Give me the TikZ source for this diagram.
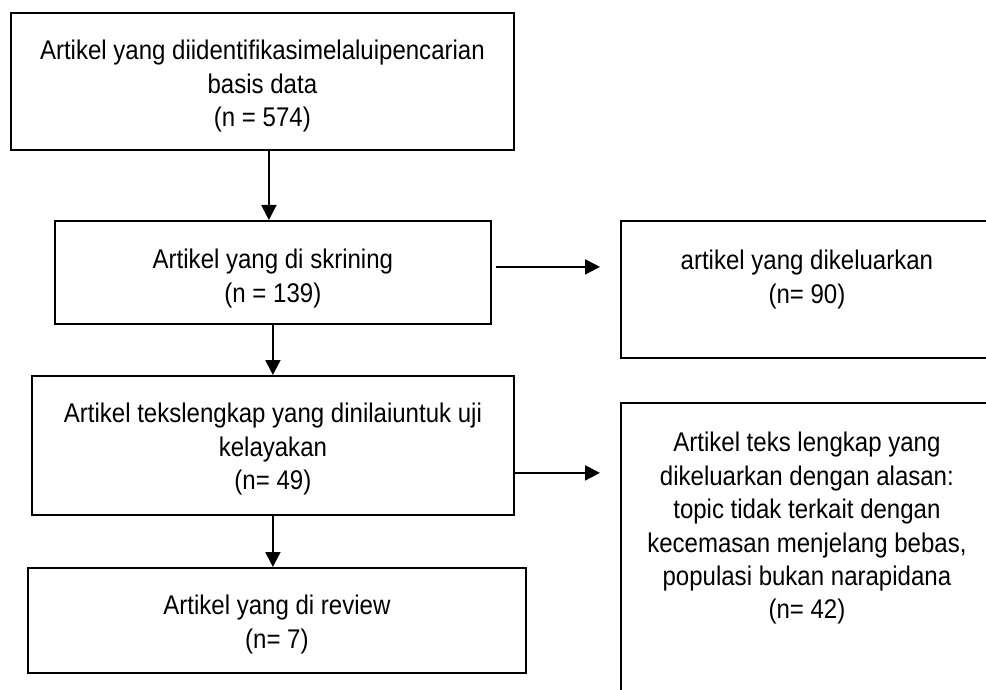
\documentclass[tikz,border=0pt]{standalone}
\usepackage{fontspec}
\setmainfont[FakeStretch=0.89]{Liberation Sans}
\usetikzlibrary{arrows.meta}

\begin{document}
\begin{tikzpicture}[x=0.5pt,y=-0.5pt,
  box/.style={draw=black,line width=0.9pt,anchor=north west,inner sep=0pt},
  txt/.style={anchor=north,align=center,inner sep=0pt,font=\fontsize{13.5}{16.7}\selectfont},
  arr/.style={-{Triangle[length=7.5pt,width=7.5pt]},line width=1pt}]
\clip (0,0) rectangle (986,690);
\node[box,minimum width=251.5pt,minimum height=68.5pt] (ident) at (10,12) {};
\node[txt] (identtxt) at ([yshift=-14pt]ident.north) {Artikel yang diidentifikasimelaluipencarian\\basis data\\(n = 574)};
\node[box,minimum width=218pt,minimum height=51.5pt] (screen) at (54,220) {};
\node[txt] (screentxt) at ([yshift=-14.5pt]screen.north) {Artikel yang di skrining\\(n = 139)};
\node[box,minimum width=186pt,minimum height=68.5pt] (excl1) at (620,220) {};
\node[txt] (excl1txt) at ([yshift=-15pt]excl1.north) {artikel yang dikeluarkan\\(n= 90)};
\node[box,minimum width=241pt,minimum height=69.5pt] (full) at (31,375) {};
\node[txt] (fulltxt) at ([yshift=-14pt]full.north) {Artikel tekslengkap yang dinilaiuntuk uji\\kelayakan\\(n= 49)};
\node[box,minimum width=186pt,minimum height=149pt] (excl2) at (620,402) {};
\node[txt] (excl2txt) at ([yshift=-15pt]excl2.north) {Artikel teks lengkap yang\\dikeluarkan dengan alasan:\\topic tidak terkait dengan\\kecemasan menjelang bebas,\\populasi bukan narapidana\\(n= 42)};
\node[box,minimum width=249pt,minimum height=52.5pt] (review) at (27,567) {};
\node[txt] (reviewtxt) at ([yshift=-14pt]review.north) {Artikel yang di review\\(n= 7)};
\draw[arr] ([xshift=3.25pt]ident.south) -- ([xshift=3.25pt]ident.south |- screen.north);
\draw[arr] (screen.south) -- (screen.south |- full.north);
\draw[arr] (full.south) -- (full.south |- review.north);
\coordinate (d0) at ([shift={(4,-5.5)}]screen.east);
\draw[arr] (d0) -- ([xshift=-10pt]excl1.west |- d0);
\coordinate (e0) at ([shift={(0,27.5)}]full.east);
\draw[arr] (e0) -- ([xshift=-10pt]excl2.west |- e0);
\end{tikzpicture}
\end{document}
